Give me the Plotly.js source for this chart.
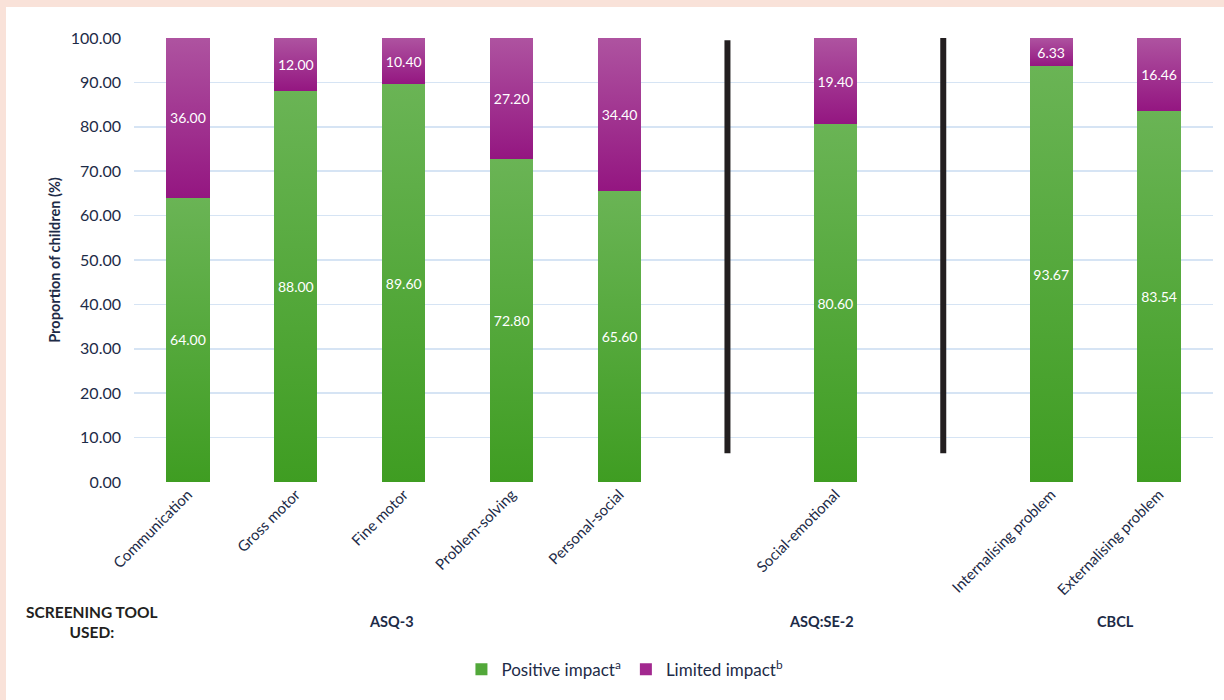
<!DOCTYPE html>
<html>
<head>
<meta charset="utf-8">
<script src="https://cdn.plot.ly/plotly-3.0.1.min.js"></script>
<style>
  html, body { margin: 0; padding: 0; width: 1224px; height: 700px; overflow: hidden; background: #f9e2d9; }
  #chart { position: absolute; left: 6px; top: 7px; width: 1218px; height: 693px; background: #ffffff; }
  #grads { position: absolute; width: 0; height: 0; }
</style>
</head>
<body>
<svg id="grads" width="0" height="0">
  <defs>
    <linearGradient id="gradGreen" x1="0" y1="0" x2="0" y2="1">
      <stop offset="0" stop-color="#6ab455"/>
      <stop offset="1" stop-color="#3f9d22"/>
    </linearGradient>
    <linearGradient id="gradPurple" x1="0" y1="0" x2="0" y2="1">
      <stop offset="0" stop-color="#ae53a0"/>
      <stop offset="1" stop-color="#941681"/>
    </linearGradient>
  </defs>
</svg>
<div id="chart"></div>
<script>
// ---- Data ----
const categories = ["Communication", "Gross motor", "Fine motor", "Problem-solving", "Personal-social",
                    "Social-emotional", "Internalising problem", "Externalising problem"];
const slotPositions = [0, 1, 2, 3, 4, 6, 8, 9];
const positiveImpact = [64.00, 88.00, 89.60, 72.80, 65.60, 80.60, 93.67, 83.54];
const limitedImpact  = [36.00, 12.00, 10.40, 27.20, 34.40, 19.40, 6.33, 16.46];
const seriesNames = ["Positive impact<sup>a</sup>", "Limited impact<sup>b</sup>"];
const toolGroups = ["ASQ-3", "ASQ:SE-2", "CBCL"];
const toolGroupCenters = [1.89, 5.87, 8.6];
const separatorSlots = [5, 7];
const separatorBottoms = [6.5, 6.5];
const separatorTops = [99.5, 100.2];
const yTicks = [0, 10, 20, 30, 40, 50, 60, 70, 80, 90, 100];

const navy = "#1d2b47";
const fontFam = "Lato, 'Open Sans', sans-serif";

const traces = [
  {
    type: "bar", name: seriesNames[0], x: slotPositions, y: positiveImpact,
    marker: { color: "#52a83a", line: { width: 0 } },
    texttemplate: "%{y:.2f}", textposition: "inside", insidetextanchor: "middle",
    textangle: 0, constraintext: "none",
    textfont: { color: "#ffffff", size: 14, family: fontFam },
    hoverinfo: "skip"
  },
  {
    type: "bar", name: seriesNames[1], x: slotPositions, y: limitedImpact,
    marker: { color: "#a2288f", line: { width: 0 } },
    texttemplate: "%{y:.2f}", textposition: "inside", insidetextanchor: "middle",
    textangle: 0, constraintext: "none",
    textfont: { color: "#ffffff", size: 14, family: fontFam },
    hoverinfo: "skip"
  }
];

const shapes = separatorSlots.map((s, i) => ({
  type: "line", xref: "x", yref: "y",
  x0: s, x1: s, y0: separatorBottoms[i], y1: separatorTops[i],
  line: { color: "#231f20", width: 6 }
}));

const annotations = toolGroups.map((g, i) => ({
  text: "<b>" + g + "</b>", xref: "x", yref: "paper",
  x: toolGroupCenters[i], y: -0.315, xanchor: "center", yanchor: "middle",
  showarrow: false, font: { size: 14.5, color: navy, family: fontFam }
}));
annotations.push({
  text: "<b>SCREENING TOOL<br>USED:</b>", xref: "paper", yref: "paper",
  x: -0.039, y: -0.315, xanchor: "center", yanchor: "middle", align: "center",
  showarrow: false, font: { size: 15.5, color: "#231f20", family: fontFam }
});

const layout = {
  width: 1218, height: 693,
  paper_bgcolor: "#ffffff", plot_bgcolor: "#ffffff",
  font: { family: fontFam, color: navy },
  margin: { l: 128, r: 11, t: 31, b: 218 },
  barmode: "stack", bargap: 0.6,
  showlegend: true,
  legend: {
    orientation: "h", x: 0.455, xanchor: "center", y: -0.423, yanchor: "middle",
    font: { size: 17, color: navy, family: fontFam }, traceorder: "normal",
    itemclick: false
  },
  xaxis: {
    range: [-0.5, 9.5], tickmode: "array", tickvals: slotPositions, ticktext: categories,
    tickangle: -45, tickfont: { size: 15, color: navy, family: fontFam },
    showgrid: false, zeroline: false, showline: false, ticks: "", fixedrange: true
  },
  yaxis: {
    range: [0, 100], tickmode: "array", tickvals: yTicks, tickformat: ".2f",
    tickfont: { size: 16, color: navy, family: fontFam },
    gridcolor: "#d6e4f4", gridwidth: 1.5, zeroline: false, showline: false,
    ticks: "", ticklabelstandoff: 12, fixedrange: true,
    title: { text: "<b>Proportion of children (%)</b>", font: { size: 14.5, color: navy, family: fontFam }, standoff: 6 }
  },
  shapes: shapes,
  annotations: annotations
};

Plotly.newPlot("chart", traces, layout, { displayModeBar: false, staticPlot: true }).then(function (gd) {
  const grads = ["url(#gradGreen)", "url(#gradPurple)"];
  const traceGroups = gd.querySelectorAll(".barlayer .trace");
  traceGroups.forEach(function (tg, i) {
    tg.querySelectorAll(".point path").forEach(function (p) {
      p.style.fill = grads[i % 2];
    });
  });
});
</script>
</body>
</html>
